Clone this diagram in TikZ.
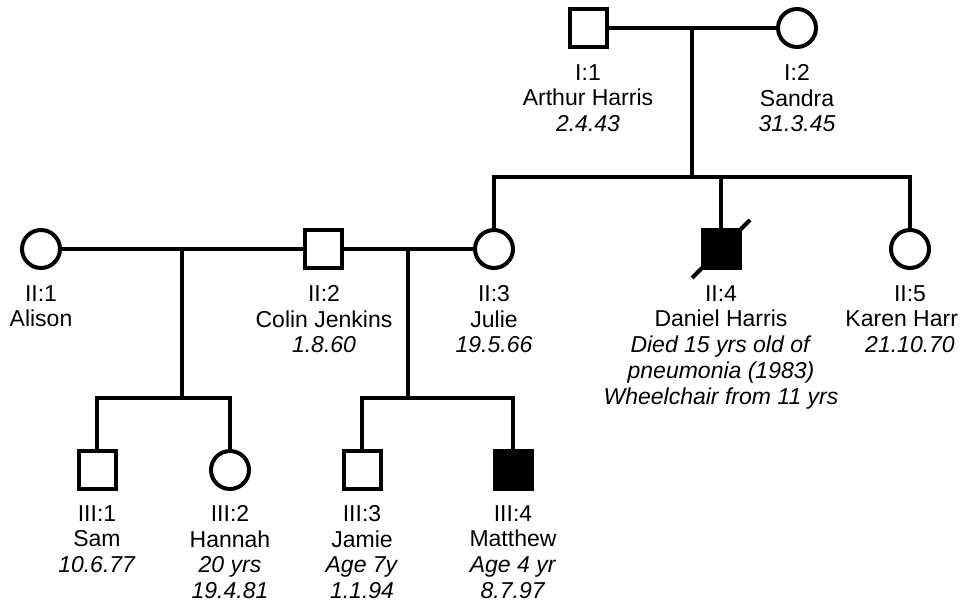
\documentclass[tikz,border=0pt]{standalone}
\usepackage{fontspec}
\setmainfont{Liberation Sans}
\begin{document}
\begin{tikzpicture}[x=1pt,y=-1pt,
  male/.style={draw,rectangle,minimum width=37pt,minimum height=38pt,inner sep=0pt,line width=4pt},
  female/.style={draw,circle,minimum size=38pt,inner sep=0pt,line width=4pt},
  affected/.style={fill=black},
  rel/.style={line width=3.6pt},
  lbl/.style={anchor=north,align=center,inner sep=0pt,font=\fontsize{23}{25.8}\selectfont}
]
\useasboundingbox (0,0) rectangle (960,603);
% individuals
\node[male] (i1) at (588,28) {};
\node[female] (i2) at (797,28) {};
\node[female] (ii1) at (41,249) {};
\node[male] (ii2) at (323,249) {};
\node[female] (ii3) at (494,249) {};
\node[male,affected] (ii4) at (721,249) {};
\node[female] (ii5) at (910,249) {};
\node[male] (iii1) at (97,470) {};
\node[female] (iii2) at (230,470) {};
\node[male] (iii3) at (362,470) {};
\node[male,affected] (iii4) at (513,470) {};
% junctions
\coordinate (m1) at (692,28);
\coordinate (s2) at (692,177);
\coordinate (m2) at (182,249);
\coordinate (s3a) at (182,398);
\coordinate (m3) at (408,249);
\coordinate (s3b) at (408,398);
% connectors
\draw[rel] (i1) -- (i2);
\draw[rel] (m1) -- (s2);
\draw[rel] (ii3.north) -- (ii3.north |- s2) -- (ii5.north |- s2) -- (ii5.north);
\draw[rel] (ii4.north) -- (ii4.north |- s2);
\draw[rel] (ii1) -- (ii2);
\draw[rel] (ii2) -- (ii3);
\draw[rel] (m2) -- (s3a);
\draw[rel] (iii1.north) -- (iii1.north |- s3a) -- (iii2.north |- s3a) -- (iii2.north);
\draw[rel] (m3) -- (s3b);
\draw[rel] (iii3.north) -- (iii3.north |- s3b) -- (iii4.north |- s3b) -- (iii4.north);
% deceased slash
\draw[line width=4pt] ([shift={(-29,29)}]ii4.center) -- ([shift={(29,-29)}]ii4.center);
% labels
\node[lbl] (li1) at (588,64) {I:1\\Arthur Harris\\\textit{2.4.43}};
\node[lbl] (li2) at (797,64) {I:2\\Sandra\\\textit{31.3.45}};
\node[lbl] (lii1) at (41,285) {II:1\\Alison};
\node[lbl] (lii2) at (324,285) {II:2\\Colin Jenkins\\\textit{1.8.60}};
\node[lbl] (lii3) at (494,285) {II:3\\Julie\\\textit{19.5.66}};
\node[lbl] (lii4) at (721,285) {II:4\\Daniel Harris\\\textit{Died 15 yrs old of}\\\textit{pneumonia (1983)}\\\textit{Wheelchair from 11 yrs}};
\node[lbl] (lii5) at (910,285) {II:5\\Karen Harr\phantom{is}\\\textit{21.10.70}};
\node[lbl] (liii1) at (97,505) {III:1\\Sam\\\textit{10.6.77}};
\node[lbl] (liii2) at (230,505) {III:2\\Hannah\\\textit{20 yrs}\\\textit{19.4.81}};
\node[lbl] (liii3) at (362,505) {III:3\\Jamie\\\textit{Age 7y}\\\textit{1.1.94}};
\node[lbl] (liii4) at (513,505) {III:4\\Matthew\\\textit{Age 4 yr}\\\textit{8.7.97}};
\end{tikzpicture}
\end{document}
